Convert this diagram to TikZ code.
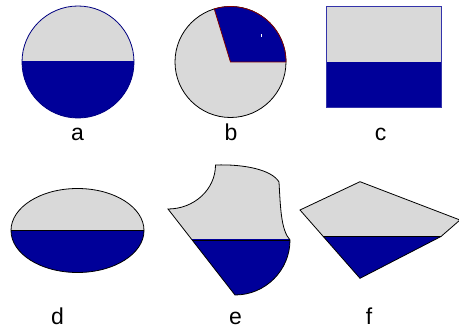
\documentclass[tikz,border=0pt]{standalone}
\usepackage{fontspec}
\setmainfont{Liberation Sans}
\definecolor{fillgray}{RGB}{217,217,217}
\definecolor{navyfill}{RGB}{0,0,153}
\definecolor{navyline}{RGB}{0,0,128}
\definecolor{rectline}{RGB}{51,51,170}
\definecolor{wedgeline}{RGB}{128,0,0}
\begin{document}
\begin{tikzpicture}[x=1pt,y=-1pt,
  lbl/.style={font=\fontsize{23}{23}\selectfont, anchor=base, inner sep=0pt},
  outl/.style={line width=0.8pt},
  split/.style={line width=0.9pt, black}]
\useasboundingbox (0,0) rectangle (459,329);

% ---- a: circle, half filled
\coordinate (ca) at (78,62);
\fill[fillgray] (ca) circle (56);
\begin{scope}
  \clip (0,62) rectangle (160,160);
  \fill[navyfill] (ca) circle (56);
\end{scope}
\draw[outl, navyline] (ca) circle (56);
\node[lbl] (la) at (77.5,140.5) {a};

% ---- b: circle with sector
\coordinate (cb) at (230.5,62);
\fill[fillgray] (cb) circle (55.5);
\draw[outl, black] (cb) circle (55.5);
\filldraw[navyfill, draw=wedgeline, outl] (cb) -- ++(55.5,0)
  arc[start angle=0, end angle=-107, radius=55.5] -- cycle;
\fill[white] (261.2,34) rectangle (262.2,37.5);
\node[lbl] (lb) at (231,140.5) {b};

% ---- c: rectangle
\fill[fillgray] (326,6) rectangle (441,62);
\fill[navyfill] (326,62) rectangle (441,107.7);
\draw[outl, rectline] (326,6) rectangle (441,107.7);
\node[lbl] (lc) at (380.5,140.5) {c};

% ---- d: ellipse
\coordinate (cd) at (77.5,230.5);
\fill[fillgray] (cd) ellipse [x radius=66.5, y radius=42];
\begin{scope}
  \clip (0,230.5) rectangle (160,300);
  \fill[navyfill] (cd) ellipse [x radius=66.5, y radius=42];
\end{scope}
\draw[outl, black] (cd) ellipse [x radius=66.5, y radius=42];
\draw[split] (11,230.5) -- (144,230.5);
\node[lbl] (ld) at (57.5,324) {d};

% ---- e: curved shape
\def\eshape{(215.5,165) .. controls (245,164) and (272,170) .. (279,182)
  .. controls (280.5,208) and (281,230) .. (290,240)
  arc[start angle=0, end angle=90, radius=55]
  -- (168,209)
  arc[start angle=90, end angle=0, x radius=47.5, y radius=44] -- cycle}
\fill[fillgray] \eshape;
\begin{scope}
  \clip (150,240) rectangle (300,300);
  \fill[navyfill] \eshape;
\end{scope}
\draw[outl, black] \eshape;
\draw[split] (192.2,240) -- (290,240);
\node[lbl] (le) at (235.5,325) {e};

% ---- f: polygon
\def\fshape{(300,210) -- (360,181.7) -- (460,220) -- (441,236.5) -- (360,278.3) -- cycle}
\fill[fillgray] \fshape;
\begin{scope}
  \clip (290,236.5) rectangle (459,300);
  \fill[navyfill] \fshape;
\end{scope}
\draw[outl, black] \fshape;
\draw[split] (323.3,236.5) -- (441,236.5);
\node[lbl] (lf) at (369,324) {f};
\end{tikzpicture}
\end{document}
